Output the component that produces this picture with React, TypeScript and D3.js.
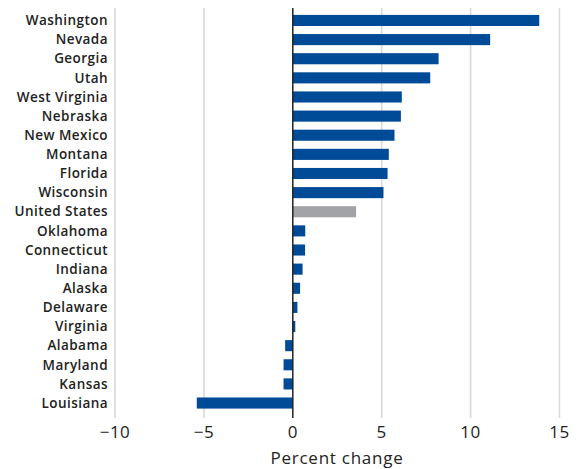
import React from "react";
import * as d3 from "d3";

const states = [
  "Washington", "Nevada", "Georgia", "Utah", "West Virginia", "Nebraska",
  "New Mexico", "Montana", "Florida", "Wisconsin", "United States",
  "Oklahoma", "Connecticut", "Indiana", "Alaska", "Delaware", "Virginia",
  "Alabama", "Maryland", "Kansas", "Louisiana",
];
const values = [
  13.86, 11.1, 8.2, 7.73, 6.13, 6.08, 5.72, 5.4, 5.33, 5.1, 3.56,
  0.7, 0.69, 0.55, 0.41, 0.26, 0.14, -0.43, -0.52, -0.52, -5.4,
];
const xTicks = [-10, -5, 0, 5, 10, 15];
const xLabel = "Percent change";
const highlight = "United States";

const W = 579;
const H = 469;

export default function App() {
  const x = d3.scaleLinear().domain([-10, 15]).range([115, 559.5]);
  const y = d3
    .scaleBand<string>()
    .domain(states)
    .range([10.9, 412.6])
    .paddingInner(0.42)
    .paddingOuter(0.21);
  const font = "'Open Sans', sans-serif";
  const gridTop = 8;
  const gridBottom = 418;
  return (
    <svg
      width={W}
      height={H}
      style={{ position: "absolute", left: 0, top: 0, background: "#fff" }}
    >
      {xTicks.filter((t) => t !== 0).map((t) => (
        <line
          key={"g" + t}
          x1={x(t)}
          x2={x(t)}
          y1={gridTop}
          y2={gridBottom}
          stroke="#d9d9d9"
          strokeWidth={1.6}
        />
      ))}
      {states.map((s, i) => {
        const v = values[i];
        const x0 = x(Math.min(0, v));
        const x1 = x(Math.max(0, v));
        return (
          <rect
            key={s}
            x={x0}
            y={y(s)}
            width={x1 - x0}
            height={y.bandwidth()}
            fill={s === highlight ? "#a1a3a6" : "#004b98"}
          />
        );
      })}
      <line
        x1={x(0)}
        x2={x(0)}
        y1={gridTop}
        y2={gridBottom}
        stroke="#222"
        strokeWidth={1.5}
      />
      {states.map((s) => (
        <text
          key={"l" + s}
          x={108}
          y={(y(s) ?? 0) + y.bandwidth() / 2}
          dy="0.35em"
          textAnchor="end"
          fontFamily={font}
          fontWeight={600}
          fontSize={13.5}
          letterSpacing={0.45}
          fill="#222"
        >
          {s}
        </text>
      ))}
      {xTicks.map((t) => (
        <text
          key={"t" + t}
          x={x(t)}
          y={432}
          dy="0.35em"
          textAnchor="middle"
          fontFamily={font}
          fontSize={17}
          letterSpacing={0.5}
          fill="#222"
        >
          {t < 0 ? "\u2212" + Math.abs(t) : String(t)}
        </text>
      ))}
      <text
        x={337}
        y={458}
        dy="0.35em"
        textAnchor="middle"
        fontFamily={font}
        fontSize={17}
        letterSpacing={0.75}
        fill="#222"
      >
        {xLabel}
      </text>
    </svg>
  );
}
